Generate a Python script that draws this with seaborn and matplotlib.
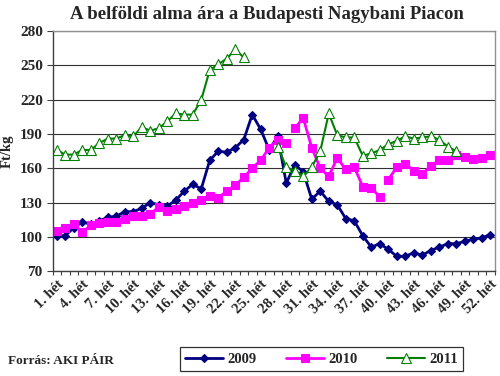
import numpy as np
import pandas as pd
import matplotlib
matplotlib.use("Agg")
import matplotlib.pyplot as plt
from matplotlib.lines import Line2D
import seaborn as sns

weeks = list(range(1, 53))
tick_weeks = list(range(1, 53, 3))
tick_labels = [f"{w}. hét" for w in tick_weeks]
y_ticks = list(range(70, 281, 30))

price_2009 = [101, 101, 108, 113, 111, 114, 117, 118, 122, 122, 125, 130, 128,
              127, 132, 140, 146, 142, 167, 175, 174, 178, 185, 207, 194, 176,
              188, 147, 163, 157, 133, 140, 131, 128, 116, 114, 101, 91, 94,
              89, 83, 83, 86, 84, 88, 91, 94, 94, 96, 98, 99, 102]
price_2010 = [105, 108, 111, 104, 110, 112, 113, 113, 116, 118, 118, 120, 126,
              123, 124, 127, 130, 132, 136, 134, 140, 145, 152, 160, 167, 178,
              185, 182, 195, 204, 178, 160, 153, 169, 159, 161, 144, 143, 135,
              150, 161, 164, 158, 155, 162, 167, 167, 172, 170, 168, 169, 172]
price_2011 = [176, 172, 172, 176, 176, 182, 186, 186, 189, 188, 196, 193, 195,
              201, 208, 207, 207, 220, 246, 251, 256, 264, 257, None, None, None,
              179, 161, 158, 153, 161, 175, 208, 189, 187, 187, 171, 173, 176,
              181, 184, 188, 186, 187, 188, 185, 179, 175, None, None, None, None]

# weeks where the line is broken in the original chart
breaks_2009 = []
breaks_2010 = [29, 40]
breaks_2011 = [27]

years = ["2009", "2010", "2011"]

serif = ["Liberation Serif", "DejaVu Serif"]


def make_frame(values, breaks):
    df = pd.DataFrame({"week": weeks, "price": values}).dropna()
    df["seg"] = np.searchsorted(breaks, df["week"].to_numpy(), side="right")
    return df


def main():
    sns.set_style("white")
    plt.rcParams["font.family"] = serif
    plt.rcParams["font.weight"] = "bold"

    styles = {
        "2009": dict(color="#000080", marker="D", markersize=4,
                     markerfacecolor="#000080", markeredgecolor="#000080",
                     markeredgewidth=0.8, linewidth=2),
        "2010": dict(color="#FF00FF", marker="s", markersize=6,
                     markerfacecolor="#FF00FF", markeredgecolor="#FF00FF",
                     markeredgewidth=0.8, linewidth=2),
        "2011": dict(color="#008000", marker="^", markersize=6.5,
                     markerfacecolor="white", markeredgecolor="#008000",
                     markeredgewidth=0.8, linewidth=1.5),
    }

    fig = plt.figure(figsize=(5, 3.76), dpi=100)
    ax = fig.add_axes([0.105, 0.279, 0.884, 0.638])

    series = [(price_2009, breaks_2009), (price_2010, breaks_2010),
              (price_2011, breaks_2011)]
    for year, (values, breaks) in zip(years, series):
        df = make_frame(values, breaks)
        sns.lineplot(data=df, x="week", y="price", units="seg", estimator=None,
                     ax=ax, legend=False, **styles[year])

    ax.set_xlim(0.5, 52.5)
    ax.set_ylim(70, 280)
    ax.set_yticks(y_ticks)
    ax.set_yticklabels([str(v) for v in y_ticks], fontsize=11, fontweight="bold")
    ax.set_xticks(tick_weeks)
    ax.set_xticklabels(tick_labels, rotation=45, ha="right",
                       rotation_mode="anchor", fontsize=10.5, fontweight="bold")
    ax.set_xticks(np.arange(0.5, 53, 1), minor=True)
    ax.tick_params(axis="x", which="major", length=0, pad=5)
    ax.tick_params(axis="x", which="minor", length=3, width=0.8, color="#404040",
                   direction="out", bottom=True)
    ax.tick_params(axis="y", length=4, width=0.8, color="#404040",
                   direction="out", left=True, pad=3)

    ax.grid(axis="y", color="#303030", linewidth=0.8)
    ax.set_axisbelow(True)
    for side in ["top", "right"]:
        ax.spines[side].set_color("#909090")
        ax.spines[side].set_linewidth(1)
    for side in ["left", "bottom"]:
        ax.spines[side].set_color("#404040")
        ax.spines[side].set_linewidth(1)

    ax.set_xlabel("")
    ax.set_ylabel("Ft/kg", fontsize=10.5, fontweight="bold", labelpad=4)
    fig.text(0.534, 0.962, "A belföldi alma ára a Budapesti Nagybani Piacon",
             ha="center", va="center", fontsize=13.5, fontweight="bold")

    handles = [Line2D([], [], label=y, **styles[y]) for y in years]
    leg = fig.legend(handles=handles, loc="center", ncol=3,
                     bbox_to_anchor=(0.643, 0.045), frameon=True, fancybox=False,
                     handlelength=2.6, columnspacing=2.0, handletextpad=0.3,
                     borderpad=0.35, prop=dict(family=serif, weight="bold", size=10.5))
    leg.get_frame().set_edgecolor("black")
    leg.get_frame().set_linewidth(0.9)

    fig.text(0.016, 0.04, "Forrás: AKI PÁIR", ha="left", va="center",
             fontsize=9.5, fontweight="bold")

    fig.savefig("out.png", dpi=100)
    plt.close(fig)


if __name__ == "__main__":
    main()
